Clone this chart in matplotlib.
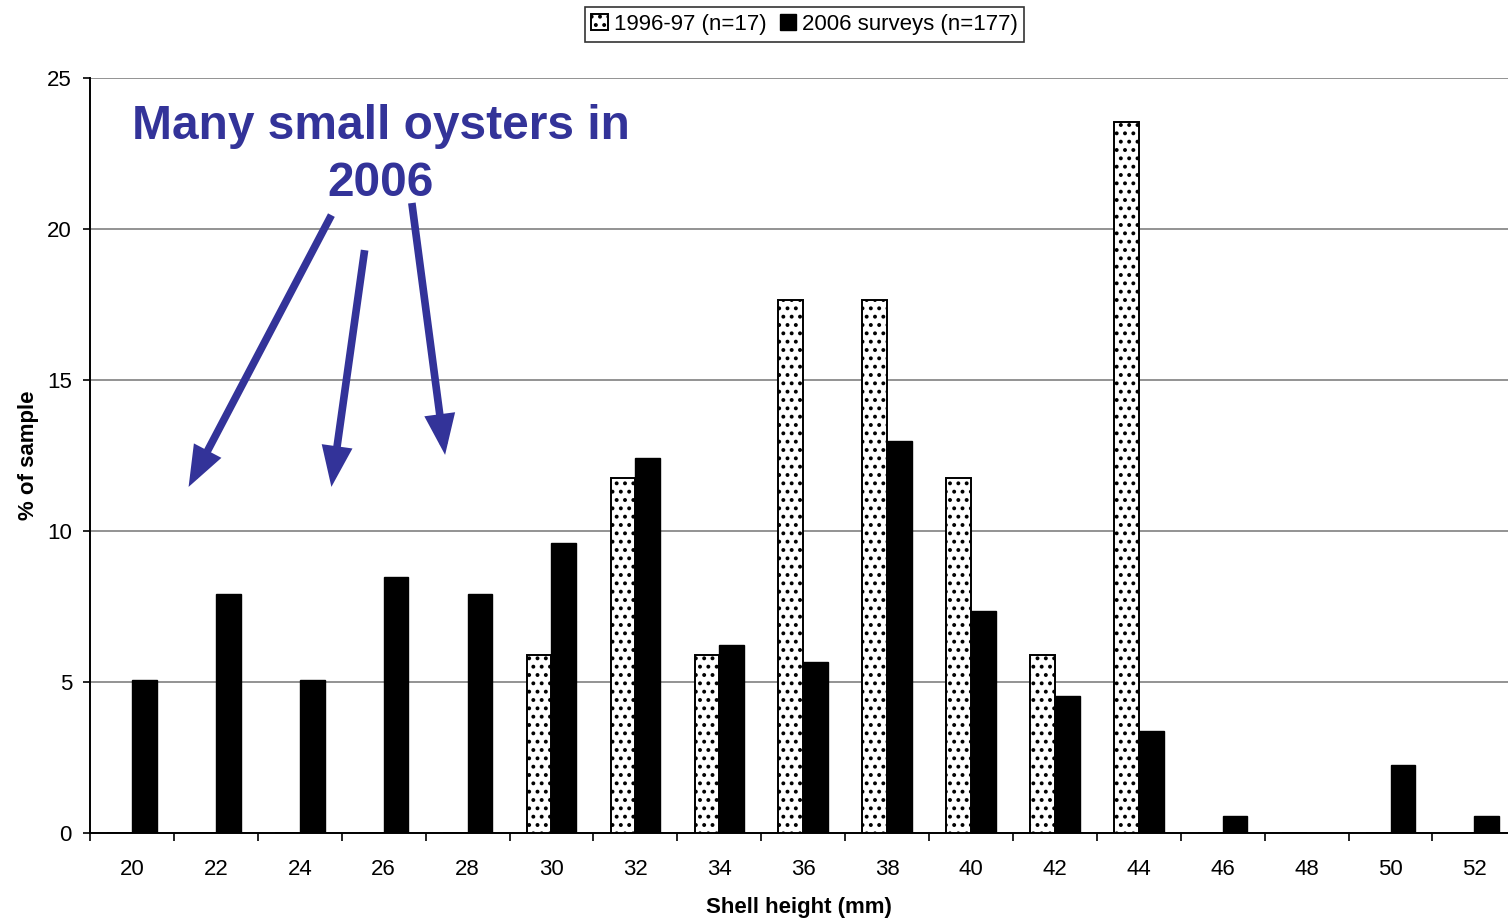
import matplotlib
matplotlib.use("Agg")
import matplotlib.pyplot as plt
import numpy as np

plt.rcParams['font.family'] = ['Liberation Sans', 'DejaVu Sans']
plt.rcParams['hatch.linewidth'] = 1.6

# Shell height classes (mm)
sizes = [20, 22, 24, 26, 28, 30, 32, 34, 36, 38, 40, 42, 44, 46, 48, 50, 52]

# Percent of sample, 1996-97 surveys (n=17)
pct_1996 = [0, 0, 0, 0, 0, 5.88, 11.76, 5.88, 17.65, 17.65, 11.76, 5.88, 23.53,
            0, 0, 0, 0]
# Percent of sample, 2006 surveys (n=177)
pct_2006 = [5.08, 7.91, 5.08, 8.47, 7.91, 9.60, 12.43, 6.21, 5.65, 12.99, 7.34,
            4.52, 3.39, 0.56, 0, 2.26, 0.56]

series_labels = ["1996-97 (n=17)", "2006 surveys (n=177)"]
annot_text = "Many small oysters in\n2006"
annot_color = "#333399"

fig = plt.figure(figsize=(15.08, 9.18), dpi=100)
ax = fig.add_axes([90 / 1508, 1 - 833 / 918, 1 - 90 / 1508, (833 - 78) / 918])

x = np.arange(len(sizes))
w = 0.295
b1 = ax.bar(x - w / 2, pct_1996, width=w, color="white", edgecolor="black",
            hatch="..", linewidth=1.4, label=series_labels[0], zorder=3)
b2 = ax.bar(x + w / 2, pct_2006, width=w, color="black", edgecolor="black",
            linewidth=1.0, label=series_labels[1], zorder=3)

ax.set_yticks([0, 5, 10, 15, 20, 25])
ax.yaxis.grid(True, color="#808080", linewidth=1.2, zorder=0)
ax.set_axisbelow(True)

# category labels centred, tick marks on the class boundaries
ax.set_xticks(x)
ax.set_xticklabels([str(s) for s in sizes])
ax.tick_params(axis="x", which="major", length=0, pad=19, labelsize=16)
ax.set_xticks(np.arange(len(sizes) + 1) - 0.5, minor=True)
ax.tick_params(axis="x", which="minor", length=6, width=1.2, color="black")
ax.tick_params(axis="y", length=5, width=1.2, labelsize=16, pad=8)

# the last class runs slightly past the right edge of the plot
ax.set_xlim(-0.5, len(sizes) - 0.6)
ax.set_ylim(0, 25)

for side in ("top", "right"):
    ax.spines[side].set_visible(False)
ax.spines["left"].set_linewidth(1.4)
ax.spines["bottom"].set_linewidth(1.4)

ax.set_xlabel("Shell height (mm)", fontsize=16, fontweight="bold", labelpad=12)
ax.set_ylabel("% of sample", fontsize=16, fontweight="bold", labelpad=6)

leg = fig.legend(handles=[b1, b2], labels=series_labels, loc="upper center",
                 bbox_to_anchor=(0.5335, 0.992), ncol=2, fontsize=16,
                 frameon=True, fancybox=False, edgecolor="black",
                 handlelength=0.75, handleheight=0.75, handletextpad=0.25,
                 columnspacing=0.6, borderpad=0.3, borderaxespad=0)
leg.get_frame().set_linewidth(1.2)

ax.text(2.965, 22.45, annot_text, ha="center", va="center", fontsize=34.5,
        fontweight="bold", color=annot_color, linespacing=1.34, zorder=5)

arrows = [((2.377, 20.46), (0.675, 11.46)),
          ((2.773, 19.30), (2.377, 11.46)),
          ((3.336, 20.86), (3.732, 12.52))]
for (tail, tip) in arrows:
    ax.annotate("", xy=tip, xytext=tail,
                arrowprops=dict(arrowstyle="-|>,head_length=0.95,head_width=0.36",
                                lw=5.5, color=annot_color, shrinkA=0, shrinkB=0,
                                mutation_scale=20, capstyle="butt",
                                joinstyle="miter"),
                zorder=5)

fig.savefig("out.png", dpi=100)
